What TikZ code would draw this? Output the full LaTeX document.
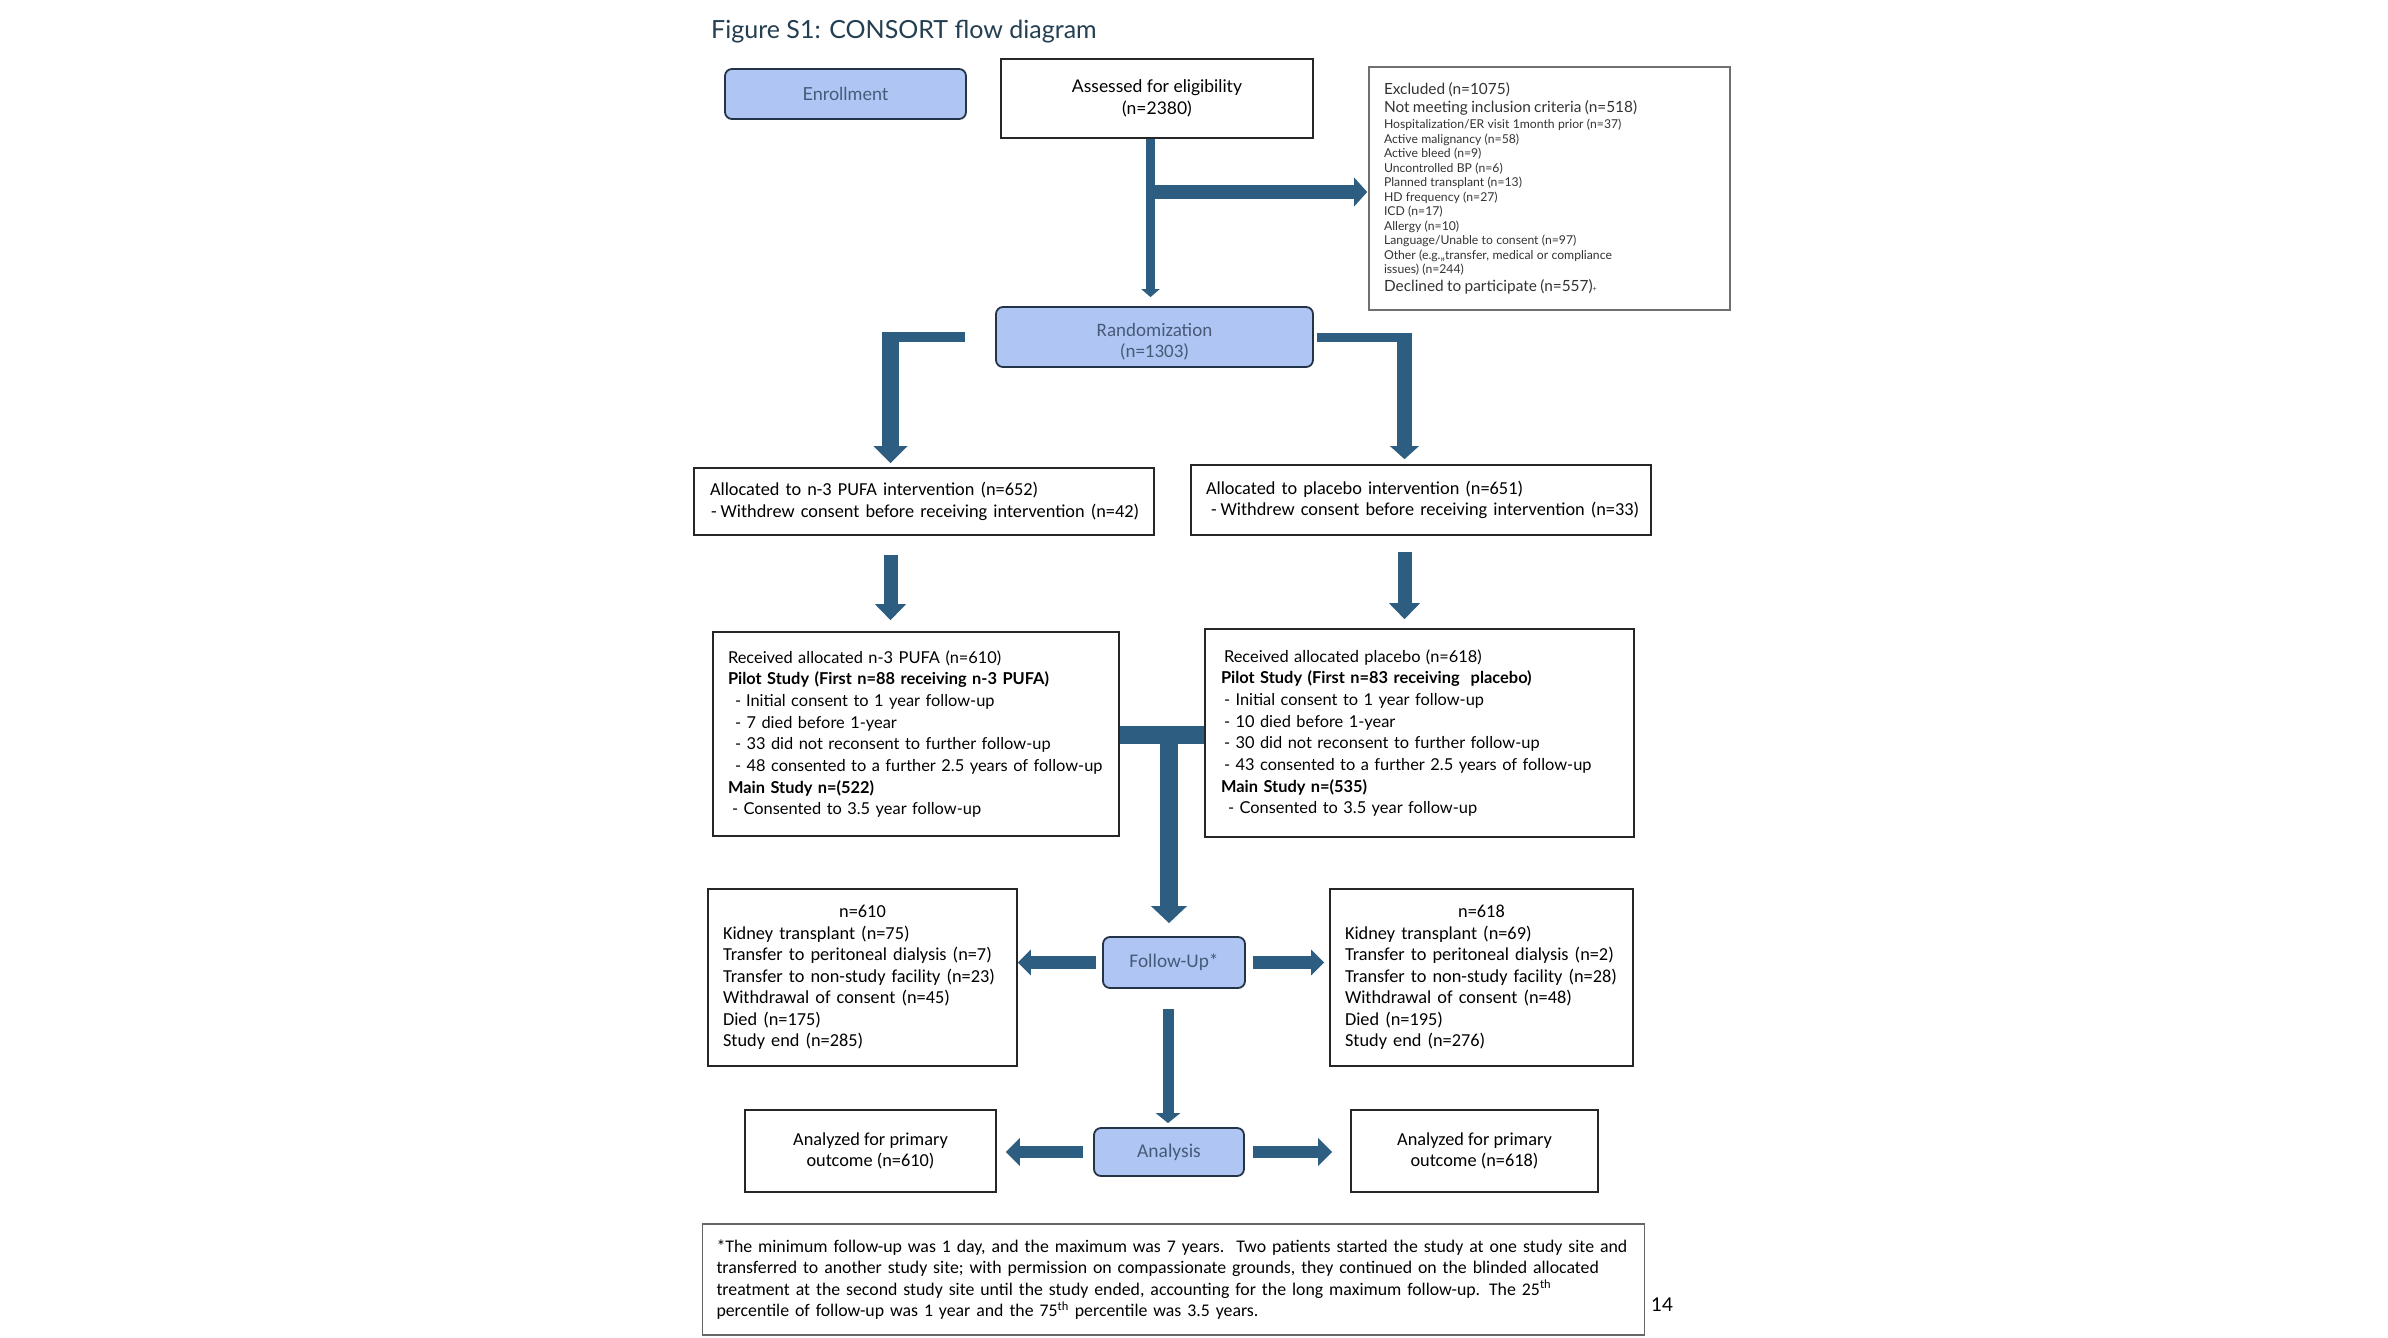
\documentclass[tikz,border=0pt]{standalone}
\usepackage{fontspec}
\setmainfont{Lato}
\newfontfamily\narrowfam{Carlito}
\usetikzlibrary{arrows.meta,calc}
\definecolor{arrowc}{HTML}{2D5D80}
\definecolor{bfill}{HTML}{AFC6F4}
\definecolor{bborder}{HTML}{243447}
\definecolor{btext}{HTML}{475A78}
\definecolor{titlec}{HTML}{243F52}
\definecolor{exclborder}{HTML}{707070}
\newcommand\NarrowTxt{\narrowfam\fontsize{18.3}{21.5}\selectfont}
\newcommand\RegTxt{\fontsize{16.4}{21.7}\selectfont}
\begin{document}
\begin{tikzpicture}[x=1pt,y=-1pt,
  bluebox/.style={draw=bborder, line width=1.8pt, fill=bfill, rounded corners=7pt, text=btext, inner sep=0pt, align=center},
  wbox/.style={draw=black!85, line width=1.6pt, fill=white, inner sep=0pt},
  shaft/.style={draw=arrowc, line width=#1, line join=miter},
  ahead/.style 2 args={-{Triangle[length=#1,width=#2]}},
]
\fill[white] (0,0) rectangle (2388,1338);
\useasboundingbox (0,0) rectangle (2388,1338);

% title
\node[anchor=west, text=titlec, font=\fontsize{25}{29}\selectfont, inner sep=0pt] (title) at (711,32) {Figure S1: CONSORT flow diagram};

% enrollment row
\node[bluebox, minimum width=241pt, minimum height=50pt, font=\fontsize{18}{22}\selectfont] (enroll) at (845.5,94) {Enrollment};
\node[wbox, minimum width=312pt, minimum height=79pt, align=center, font=\fontsize{17.5}{22}\selectfont] (assess) at (1157,98.5) {Assessed for eligibility\\(n=2380)};
\node[wbox, draw=exclborder, minimum width=361pt, minimum height=243pt, text width=331pt, inner xsep=15pt, align=left, text=black!80] (excl) at (1549.5,188.5) {%
{\fontsize{15.4}{18.5}\selectfont Excluded (n=1075)\\
Not meeting inclusion criteria (n=518)\par}\vspace{1.5pt}
{\fontsize{12.2}{14.5}\selectfont Hospitalization/ER visit 1month prior (n=37)\\
Active malignancy (n=58)\\
Active bleed (n=9)\\
Uncontrolled BP (n=6)\\
Planned transplant (n=13)\\
HD frequency (n=27)\\
ICD (n=17)\\
Allergy (n=10)\\
Language/Unable to consent (n=97)\\
Other (e.g.,,transfer, medical or compliance\\
issues) (n=244)\par}
{\fontsize{15.4}{18}\selectfont Declined to participate (n=557){\fontsize{7}{7}\selectfont +}\par}};

% randomization
\node[bluebox, minimum width=317pt, minimum height=60pt, font=\narrowfam\fontsize{19}{21}\selectfont] (rand) at (1154.5,337) {\rule{0pt}{22pt}Randomization\\(n=1303)};

% allocation
\node[wbox, minimum width=460pt, minimum height=67pt, text width=428pt, inner xsep=16pt, align=left, font=\NarrowTxt] (alloc1) at (924,501.5) {\mbox{Allocated to n-3 PUFA intervention (n=652)}\\
\mbox{\hspace*{1pt}-\hspace{4pt}Withdrew consent before receiving intervention (n=42)}};
\node[wbox, minimum width=460pt, minimum height=70pt, text width=430pt, inner xsep=15pt, align=left, font=\NarrowTxt] (alloc2) at (1421,500) {\mbox{Allocated to placebo intervention (n=651)}\\
\mbox{\hspace*{5pt}-\hspace{4pt}Withdrew consent before receiving intervention (n=33)}};

% received
\node[wbox, minimum width=406pt, minimum height=204pt, text width=376pt, inner xsep=15pt, align=left, font=\RegTxt] (rec1) at (916,734) {Received allocated n-3 PUFA (n=610)\\
\textbf{Pilot Study (First n=88 receiving n-3 PUFA)}\\
\hspace*{7pt}-\hspace{5pt}Initial consent to 1 year follow-up\\
\hspace*{7pt}- 7 died before 1-year\\
\hspace*{7pt}- 33 did not reconsent to further follow-up\\
\hspace*{7pt}- 48 consented to a further 2.5 years of follow-up\\
\textbf{Main Study n=(522)}\\
\hspace*{4pt}- Consented to 3.5 year follow-up};
\node[wbox, minimum width=429pt, minimum height=208pt, text width=397pt, inner xsep=16pt, align=left, font=\RegTxt] (rec2) at (1419.5,733) {\hspace*{3pt}Received allocated placebo (n=618)\\
\textbf{Pilot Study (First n=83 receiving\ \ placebo)}\\
\hspace*{3pt}- Initial consent to 1 year follow-up\\
\hspace*{3pt}- 10 died before 1-year\\
\hspace*{3pt}- 30 did not reconsent to further follow-up\\
\hspace*{3pt}- 43 consented to a further 2.5 years of follow-up\\
\textbf{Main Study n=(535)}\\
\hspace*{7pt}- Consented to 3.5 year follow-up};

% follow-up
\node[bluebox, minimum width=142pt, minimum height=51pt, font=\narrowfam\fontsize{19.3}{22}\selectfont] (fu) at (1174,962.5) {Follow-Up*};
\node[wbox, minimum width=309pt, minimum height=177pt, text width=279pt, inner xsep=15pt, align=left, font=\NarrowTxt] (out1) at (862.5,977.5) {\makebox[279pt][c]{n=610}\\
Kidney transplant (n=75)\\
Transfer to peritoneal dialysis (n=7)\\
Transfer to non-study facility (n=23)\\
Withdrawal of consent (n=45)\\
Died (n=175)\\
Study end (n=285)};
\node[wbox, minimum width=303pt, minimum height=177pt, text width=273pt, inner xsep=15pt, align=left, font=\NarrowTxt] (out2) at (1481.5,977.5) {\makebox[273pt][c]{n=618}\\
Kidney transplant (n=69)\\
Transfer to peritoneal dialysis (n=2)\\
Transfer to non-study facility (n=28)\\
Withdrawal of consent (n=48)\\
Died (n=195)\\
Study end (n=276)};

% analysis
\node[bluebox, minimum width=150pt, minimum height=48pt, font=\narrowfam\fontsize{19.5}{22}\selectfont] (ana) at (1169,1152) {Analysis};
\node[wbox, minimum width=251pt, minimum height=82pt, align=center, font=\NarrowTxt] (an1) at (870.5,1151) {Analyzed for primary\\outcome (n=610)};
\node[wbox, minimum width=247pt, minimum height=82pt, align=center, font=\NarrowTxt] (an2) at (1474.5,1151) {Analyzed for primary\\outcome (n=618)};

% footnote
\node[wbox, draw=black!60, minimum width=942pt, minimum height=111pt, text width=914pt, inner xsep=14pt, align=left, font=\narrowfam\fontsize{17.8}{21.5}\selectfont] (foot) at (1173.5,1279.5) {*The minimum follow-up was 1 day, and the maximum was 7 years.\ \ Two patients started the study at one study site and\\
transferred to another study site; with permission on compassionate grounds, they continued on the blinded allocated\\
treatment at the second study site until the study ended, accounting for the long maximum follow-up. The 25\textsuperscript{th}\\
percentile of follow-up was 1 year and the 75\textsuperscript{th} percentile was 3.5 years.};
\node[font=\fontsize{19}{22}\selectfont, inner sep=0pt] (pg) at (1662,1305) {14};

% connectors
\coordinate (vx) at (1150.5,0);
\coordinate (bx) at (1155,192);
\coordinate (lx) at (890.5,0);
\coordinate (rx) at (1404.5,0);
\coordinate (mj) at (1169,735);
\coordinate (dx) at (1168,0);

\draw[shaft=9pt, ahead={8pt}{18pt}, shorten >=9pt] (vx |- assess.south) -- (vx |- rand.north);
\draw[shaft=14pt, ahead={13pt}{28pt}, shorten >=1pt] (bx) -- (bx -| excl.west);

\draw[shaft=10pt] ([xshift=-30pt]rand.west) -- ($(lx |- rand.west)+(-8.5,0)$);
\draw[shaft=17pt, ahead={17pt}{33pt}, shorten >=4pt] ($(lx |- rand.west)+(0,-5)$) -- (lx |- alloc1.north);
\draw[shaft=9pt] ([xshift=3pt]rand.east) -- ($(rx |- rand.east)+(7.5,0)$);
\draw[shaft=15pt, ahead={13pt}{28pt}, shorten >=5pt] ($(rx |- rand.east)+(0,-4.5)$) -- (rx |- alloc2.north);

\draw[shaft=14pt, ahead={16pt}{30pt}, shorten <=19pt, shorten >=11pt] (lx |- alloc1.south) -- (lx |- rec1.north);
\draw[shaft=14pt, ahead={16pt}{30pt}, shorten <=16pt, shorten >=9pt] (rx |- alloc2.south) -- (rx |- rec2.north);

\draw[shaft=18pt] (mj -| rec1.east) -- (mj -| rec2.west);
\draw[shaft=18pt, ahead={17pt}{35pt}, shorten >=13pt] ($(mj)+(0,-9)$) -- (mj |- fu.north);

\draw[shaft=13pt, ahead={13pt}{25pt}] ([xshift=-6pt]fu.west) -- (fu.west -| out1.east);
\draw[shaft=13pt, ahead={13pt}{25pt}, shorten >=5pt] ([xshift=7pt]fu.east) -- (fu.east -| out2.west);

\draw[shaft=11pt, ahead={10pt}{24pt}, shorten <=20pt, shorten >=4pt] (dx |- fu.south) -- (dx |- ana.north);

\draw[shaft=12pt, ahead={14pt}{27pt}, shorten >=9pt] ([xshift=-10pt]ana.west) -- (ana.west -| an1.east);
\draw[shaft=12pt, ahead={14pt}{27pt}, shorten >=18pt] ([xshift=8pt]ana.east) -- (ana.east -| an2.west);
\end{tikzpicture}
\end{document}
